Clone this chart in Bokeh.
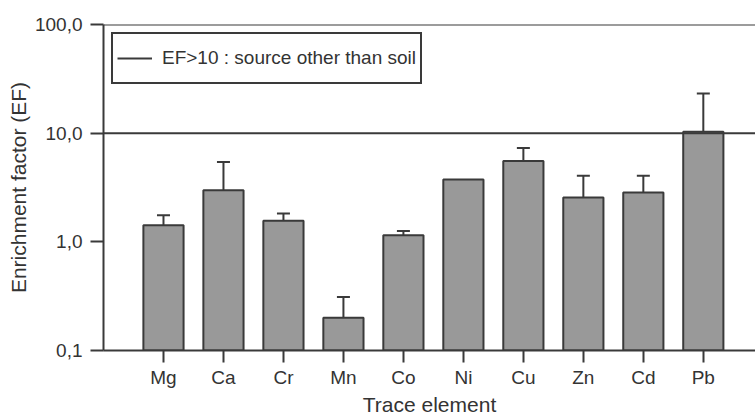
from bokeh.plotting import figure
from bokeh.models import (ColumnDataSource, FixedTicker, Range1d, Span, Whisker,
                          TeeHead, CustomJSTickFormatter)
from bokeh.embed import file_html
from bokeh.resources import INLINE

# Enrichment factors per trace element (mean and upper deviation)
elements = ["Mg", "Ca", "Cr", "Mn", "Co", "Ni", "Cu", "Zn", "Cd", "Pb"]
ef_mean = [1.42, 2.99, 1.56, 0.20, 1.15, 3.75, 5.53, 2.56, 2.85, 10.3]
ef_sd = [0.34, 2.45, 0.26, 0.11, 0.11, 0.0, 1.79, 1.49, 1.20, 12.9]
ef_threshold = 10.0
y_ticks = [0.1, 1.0, 10.0, 100.0]

FONT = "Liberation Sans"
INK = "#3a3a3a"
TEXT = "#333333"

pos = list(range(1, len(elements) + 1))
bars = ColumnDataSource(dict(x=pos, top=ef_mean))
err_idx = [i for i, s in enumerate(ef_sd) if s > 0]
errs = ColumnDataSource(dict(
    x=[pos[i] for i in err_idx],
    lower=[ef_mean[i] for i in err_idx],
    upper=[ef_mean[i] + ef_sd[i] for i in err_idx],
))

p = figure(width=755, height=418, y_axis_type="log",
           x_range=Range1d(0, 10.87), y_range=Range1d(0.1, 100),
           output_backend="svg", toolbar_location=None,
           min_border_left=103, min_border_right=0,
           min_border_top=24, min_border_bottom=68)
p.outline_line_color = None
p.grid.visible = False
p.background_fill_color = "white"
p.border_fill_color = "white"

p.vbar(x="x", top="top", bottom=0.1, width=0.67, source=bars,
       fill_color="#999999", line_color=INK, line_width=2)

p.add_layout(Whisker(source=errs, base="x", lower="lower", upper="upper",
                     line_color=INK, line_width=2, lower_head=None,
                     upper_head=TeeHead(size=13, line_color=INK, line_width=2)))

# Reference line at EF = 10 (also the legend entry)
p.line(x=[p.x_range.start, p.x_range.end], y=[ef_threshold, ef_threshold],
       line_color=INK, line_width=2,
       legend_label="EF>10 : source other than soil")
# Top border at EF = 100
p.add_layout(Span(location=y_ticks[-1], dimension="width",
                  line_color=INK, line_width=2))

# Axes
p.xaxis.ticker = FixedTicker(ticks=pos)
p.xaxis.major_label_overrides = {i: e for i, e in zip(pos, elements)}
p.xaxis.minor_tick_line_color = None
p.xaxis.major_tick_in = 0
p.xaxis.major_tick_out = 12
p.xaxis.major_label_standoff = 4
p.xaxis.axis_label = "Trace element"
p.xaxis.axis_label_standoff = 2

p.yaxis.ticker = FixedTicker(ticks=y_ticks, minor_ticks=[])
p.yaxis.formatter = CustomJSTickFormatter(
    code="return tick.toFixed(1).replace('.', ',');")
p.yaxis.minor_tick_line_color = None
p.yaxis.major_tick_in = 0
p.yaxis.major_tick_out = 13
p.yaxis.major_label_standoff = 8
p.yaxis.axis_label = "Enrichment factor (EF)"
p.yaxis.axis_label_standoff = 2

for ax in (p.xaxis, p.yaxis):
    ax.axis_line_color = INK
    ax.axis_line_width = 2
    ax.major_tick_line_color = INK
    ax.major_tick_line_width = 2
    ax.major_label_text_font = FONT
    ax.major_label_text_font_size = "19px"
    ax.major_label_text_color = TEXT
    ax.axis_label_text_font = FONT
    ax.axis_label_text_font_size = "21px"
    ax.axis_label_text_font_style = "normal"
    ax.axis_label_text_color = TEXT

# Legend box
lg = p.legend[0]
lg.location = "top_left"
lg.margin = 8
lg.padding = 4
lg.glyph_width = 35
lg.glyph_height = 40
lg.label_standoff = 10
lg.label_text_font = FONT
lg.label_text_font_size = "19px"
lg.label_text_color = TEXT
lg.border_line_color = INK
lg.border_line_width = 2
lg.border_line_alpha = 1.0
lg.background_fill_alpha = 1.0

open("out.html", "w").write(file_html(p, INLINE))
